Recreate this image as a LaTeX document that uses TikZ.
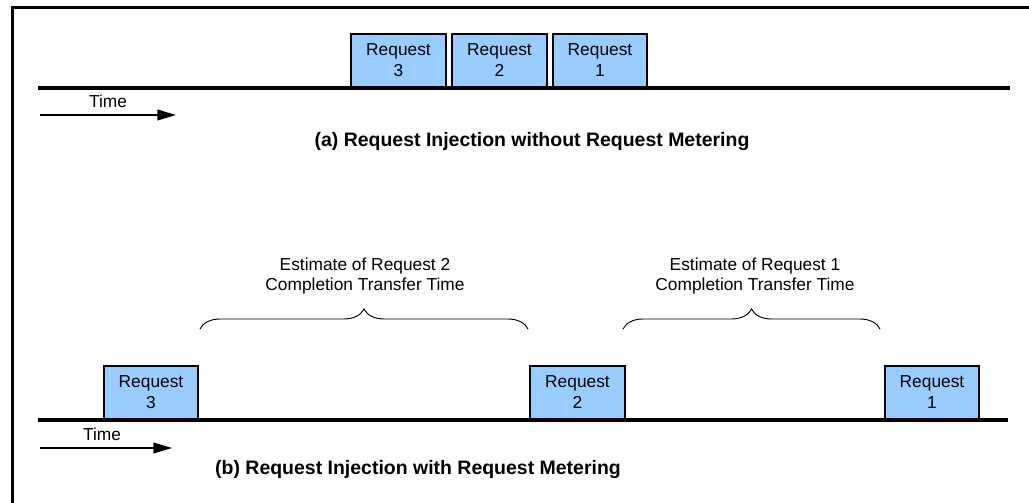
\documentclass[tikz,border=0pt]{standalone}
\usepackage{fontspec}
\setmainfont{Liberation Sans}
\usetikzlibrary{arrows.meta,decorations.pathreplacing}
\definecolor{reqblue}{HTML}{99CCFF}
\tikzset{
  reqbox/.style={draw, line width=1.5pt, fill=reqblue, anchor=south,
    minimum width=71pt, minimum height=40pt, inner sep=0pt, align=center,
    font=\fontsize{13}{15.75}\selectfont},
  timeline/.style={line width=3pt},
  timearrow/.style={line width=1.5pt, -{Triangle[length=14pt,width=8pt]}},
  timelabel/.style={font=\fontsize{13}{15.75}\selectfont},
  estlabel/.style={align=center, font=\fontsize{13}{15}\selectfont},
  caption/.style={font=\fontsize{14.6}{17}\selectfont\bfseries},
  estbrace/.style={line width=0.7pt, decorate, decoration={brace, amplitude=15pt}}
}
\begin{document}
\begin{tikzpicture}[x=0.75pt, y=-0.75pt]
\useasboundingbox (0,0) rectangle (1029,503);
% frame
\draw[line width=2.25pt] (12,510) -- (12,8) -- (1035,8);
% (a) without metering
\coordinate (lineAl) at (38,88);
\coordinate (lineAr) at (1010,88);
\draw[timeline] (lineAl) -- (lineAr);
\node[reqbox] (reqA3) at (398.5,88) {Request\\3};
\node[reqbox] (reqA2) at (499.5,88) {Request\\2};
\node[reqbox] (reqA1) at (600,88) {Request\\1};
\node[timelabel] (timeA) at (108,101) {Time};
\coordinate (arrAl) at (40,115);
\coordinate (arrAr) at (176,115);
\draw[timearrow] (arrAl) -- (arrAr);
\node[caption] (capA) at (532,142) {(a) Request Injection without Request Metering};
% (b) with metering
\coordinate (lineBl) at (38,420);
\coordinate (lineBr) at (1008,420);
\draw[timeline] (lineBl) -- (lineBr);
\node[reqbox] (reqB3) at (151,420) {Request\\3};
\node[reqbox] (reqB2) at (577.5,420) {Request\\2};
\node[reqbox] (reqB1) at (932,420) {Request\\1};
\node[timelabel] (timeB) at (102,434) {Time};
\coordinate (arrBl) at (40,448);
\coordinate (arrBr) at (172,448);
\draw[timearrow] (arrBl) -- (arrBr);
\node[caption] (capB) at (418,470) {(b) Request Injection with Request Metering};
% estimates
\coordinate (brA) at (200,329);
\coordinate (brB) at (528,329);
\coordinate (brC) at (623,329);
\coordinate (brD) at (880,329);
\draw[estbrace] (brA) -- (brB);
\draw[estbrace] (brC) -- (brD);
\node[estlabel] (est2) at (365,276) {Estimate of Request 2\\Completion Transfer Time};
\node[estlabel] (est1) at (755,276) {Estimate of Request 1\\Completion Transfer Time};
\end{tikzpicture}
\end{document}
